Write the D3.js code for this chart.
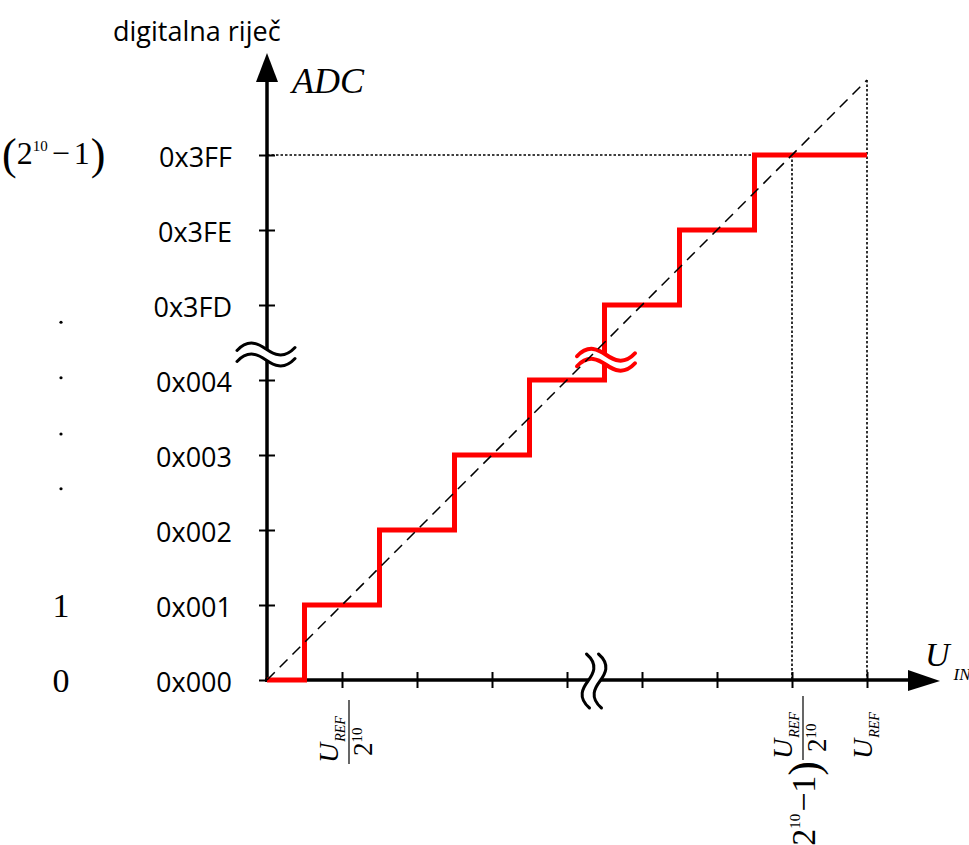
<!DOCTYPE html>
<html>
<head>
<meta charset="utf-8">
<script src="https://cdn.jsdelivr.net/npm/d3@7"></script>
<style>
  body { margin: 0; background: #fff; }
</style>
</head>
<body>
<div id="chart"></div>
<script>
// output codes on the vertical axis (axis is broken between 0x004 and 0x3FD)
const codeLabels = ["0x000", "0x001", "0x002", "0x003", "0x004", "0x3FD", "0x3FE", "0x3FF"];
const codeLevels = [0, 1, 2, 3, 4, 5, 6, 7];
// input where the ADC jumps to the next code, in LSB steps (U_REF / 2^10)
const transitionInputs = [0.5, 1.5, 2.5, 3.5, 4.5, 5.5, 6.5];
const fullScaleInput = 8;
const inputTicks = [1, 2, 3, 4, 5, 6, 7, 8];
// decimal column on the left
const decimalLabels = ["0", "1"];
const decimalLevels = [0, 1];
const dotLevels = [4.77, 4.03, 3.28, 2.55];
// break marks (axis units)
const yBreakLevel = 4.34;
const xBreakInput = 4.36;
const stairBreak = [4.52, 4.27];

const width = 969, height = 845;
const serif = "'Liberation Serif', 'Times New Roman', serif";
const sans = "'Open Sans', sans-serif";

const svg = d3.select("#chart")
              .append("svg")
              .attr("width", width)
              .attr("height", height);
svg.append("rect")
   .attr("width", width)
   .attr("height", height)
   .attr("fill", "#fff");

const x = d3.scaleLinear().domain([0, fullScaleInput]).range([267, 867]);
const y = d3.scaleLinear().domain([0, fullScaleInput]).range([680, 80]);

const topCode = codeLevels[codeLevels.length - 1];
const lastStep = transitionInputs[transitionInputs.length - 1];

// wavy "break" mark, horizontal or turned on its side
const tilde = (cx, cy, w, a, vertical) => {
    const pts = [[-w, a * 0.3], [-w * 0.6, -a * 2.2], [-w * 0.25, -a], [0, 0],
                 [w * 0.25, a], [w * 0.6, a * 2.2], [w, -a * 0.3]];
    const p = pts.map(([u, v]) => vertical ? [cx - v, cy + u] : [cx + u, cy + v]);
    const path = d3.path();
    path.moveTo(p[0][0], p[0][1]);
    path.bezierCurveTo(p[1][0], p[1][1], p[2][0], p[2][1], p[3][0], p[3][1]);
    path.bezierCurveTo(p[4][0], p[4][1], p[5][0], p[5][1], p[6][0], p[6][1]);
    return path.toString();
};

const drawBreak = (cx, cy, w, a, gap, vertical, color, sw) => {
    const off = gap / 2;
    svg.append("path")
       .attr("d", tilde(cx, cy, w, a, vertical))
       .attr("fill", "none")
       .attr("stroke", "#fff")
       .attr("stroke-width", gap - sw + 1);
    [-off, off].forEach(o => {
        svg.append("path")
           .attr("d", vertical ? tilde(cx + o, cy, w, a, true) : tilde(cx, cy + o, w, a, false))
           .attr("fill", "none")
           .attr("stroke", color)
           .attr("stroke-width", sw)
           .attr("stroke-linecap", "round");
    });
};

// dotted guides
const dotted = (x1, y1, x2, y2) => {
    svg.append("line")
       .attr("x1", x1).attr("y1", y1).attr("x2", x2).attr("y2", y2)
       .attr("stroke", "#000")
       .attr("stroke-width", 1.6)
       .attr("stroke-dasharray", "2.5,2");
};
dotted(x(0), y(topCode), x(lastStep), y(topCode));
dotted(x(fullScaleInput - 1), y(topCode), x(fullScaleInput - 1), y(0));
dotted(x(fullScaleInput), y(fullScaleInput), x(fullScaleInput), y(0));

// axes
svg.append("line")
   .attr("x1", x(0)).attr("y1", y(0) + 2).attr("x2", x(0)).attr("y2", 80)
   .attr("stroke", "#000").attr("stroke-width", 3.5);
svg.append("path")
   .attr("d", `M${x(0)},53 L${x(0) - 11},82 L${x(0) + 11},82 Z`)
   .attr("fill", "#000");
svg.append("line")
   .attr("x1", x(0) - 2).attr("y1", y(0)).attr("x2", 912).attr("y2", y(0))
   .attr("stroke", "#000").attr("stroke-width", 3.5);
svg.append("path")
   .attr("d", `M940,${y(0) + 1} L908,${y(0) - 10} L908,${y(0) + 11} Z`)
   .attr("fill", "#000");

const yAxis = svg.append("g")
    .attr("transform", `translate(${x(0)},0)`)
    .call(d3.axisLeft(y).tickValues(codeLevels)
            .tickFormat(d => codeLabels[d]).tickSize(8).tickPadding(27));
yAxis.select(".domain").remove();
yAxis.selectAll(".tick line").attr("x1", 8).attr("stroke-width", 2);
yAxis.selectAll(".tick text")
     .attr("font-family", sans)
     .attr("font-size", 27)
     .attr("fill", "#000")
     .attr("dy", 11);

const xAxis = svg.append("g")
    .attr("transform", `translate(0,${y(0)})`)
    .call(d3.axisBottom(x).tickValues(inputTicks).tickFormat("").tickSize(8));
xAxis.select(".domain").remove();
xAxis.selectAll(".tick line").attr("y1", -8).attr("stroke-width", 2);

drawBreak(x(0) - 1, y(yBreakLevel), 29, 5, 11, false, "#000", 3);
drawBreak(x(xBreakInput), y(0) + 1, 27, 5, 12, true, "#000", 3);

// transfer characteristic
const stairs = [[0, 0]].concat(transitionInputs.map((t, i) => [t, codeLevels[i + 1]]))
                       .concat([[fullScaleInput, topCode]]);
svg.append("path")
   .datum(stairs)
   .attr("d", d3.line().x(d => x(d[0])).y(d => y(d[1])).curve(d3.curveStepAfter))
   .attr("fill", "none")
   .attr("stroke", "#ff0000")
   .attr("stroke-width", 5);

drawBreak(x(stairBreak[0]), y(stairBreak[1]), 29, 5, 10, false, "#ff0000", 4);

// ideal line
svg.append("line")
   .attr("x1", x(0)).attr("y1", y(0))
   .attr("x2", x(fullScaleInput)).attr("y2", y(fullScaleInput))
   .attr("stroke", "#000")
   .attr("stroke-width", 1.5)
   .attr("stroke-dasharray", "11,7");

// titles
svg.append("text")
   .attr("x", 113).attr("y", 41)
   .attr("font-family", sans).attr("font-size", 27)
   .text("digitalna riječ");
svg.append("text")
   .attr("x", 292).attr("y", 93)
   .attr("font-family", serif).attr("font-style", "italic").attr("font-size", 36)
   .text("ADC");

const uin = svg.append("text")
   .attr("x", 925).attr("y", 666)
   .attr("font-family", serif).attr("font-style", "italic");
uin.append("tspan").attr("font-size", 34).text("U");
uin.append("tspan").attr("font-size", 17).attr("dx", 4).attr("dy", 14).text("IN");

// left column
const topLeft = svg.append("text")
   .attr("x", 2).attr("y", y(topCode) + 14)
   .attr("font-family", serif);
topLeft.append("tspan").attr("font-size", 44).text("(");
topLeft.append("tspan").attr("font-size", 32).attr("dy", -5).text("2");
topLeft.append("tspan").attr("font-size", 15).attr("dy", -13).text("10");
topLeft.append("tspan").attr("font-size", 32).attr("dy", 13).attr("dx", 4).text("−");
topLeft.append("tspan").attr("font-size", 32).attr("dx", 4).text("1");
topLeft.append("tspan").attr("font-size", 44).attr("dy", 5).attr("dx", 1).text(")");

svg.selectAll(".dec")
   .data(decimalLevels)
   .enter().append("text")
   .attr("class", "dec")
   .attr("x", 61).attr("y", d => y(d) + 12)
   .attr("text-anchor", "middle")
   .attr("font-family", serif).attr("font-size", 34)
   .text((d, i) => decimalLabels[i]);

svg.selectAll(".dot")
   .data(dotLevels)
   .enter().append("circle")
   .attr("class", "dot")
   .attr("cx", 61).attr("cy", d => y(d))
   .attr("r", 1.6)
   .attr("fill", "#000");

// rotated input labels
const uref = (g, lx, ly) => {
    const t = g.append("text").attr("x", lx).attr("y", ly)
               .attr("font-family", serif).attr("font-style", "italic");
    t.append("tspan").attr("font-size", 28).text("U");
    t.append("tspan").attr("font-size", 14).attr("dx", 1).attr("dy", 7).text("REF");
};
const pow2 = (g, lx, ly) => {
    const t = g.append("text").attr("x", lx).attr("y", ly).attr("font-family", serif);
    t.append("tspan").attr("font-size", 27).text("2");
    t.append("tspan").attr("font-size", 15).attr("dy", -10).text("10");
};
const fraction = (cx, cy) => {
    const g = svg.append("g").attr("transform", `translate(${cx},${cy}) rotate(-90)`);
    g.append("line").attr("x1", 0).attr("x2", 64).attr("y1", 0).attr("y2", 0)
     .attr("stroke", "#000").attr("stroke-width", 1.2);
    uref(g, 1, -11);
    pow2(g, 8, 23);
    return g;
};

fraction(x(1) + 7, 764);

const gB = fraction(x(fullScaleInput - 1) + 11, 760);
const pre = gB.append("text")
   .attr("x", -1).attr("y", 16)
   .attr("text-anchor", "end")
   .attr("font-family", serif);
pre.append("tspan").attr("font-size", 44).text("(");
pre.append("tspan").attr("font-size", 34).attr("dy", -4).text("2");
pre.append("tspan").attr("font-size", 15).attr("dy", -15).text("10");
pre.append("tspan").attr("font-size", 34).attr("dy", 15).attr("dx", 2).text("−");
pre.append("tspan").attr("font-size", 34).text("1");
pre.append("tspan").attr("font-size", 44).attr("dy", 4).text(")");

const gC = svg.append("g").attr("transform", `translate(${x(fullScaleInput) + 5},759) rotate(-90)`);
uref(gC, 0, 0);
</script>
</body>
</html>
